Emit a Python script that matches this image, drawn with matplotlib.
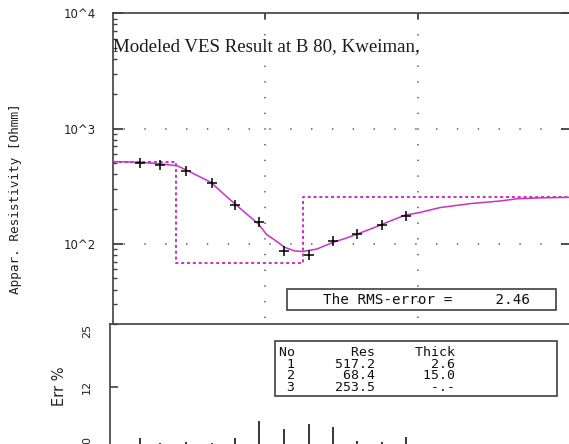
import matplotlib
matplotlib.use("Agg")
import matplotlib.pyplot as plt
from matplotlib.patches import Rectangle
from matplotlib.ticker import FixedLocator, NullLocator, FixedFormatter

plt.rcParams["lines.scale_dashes"] = False

# Field data: half current-electrode spacing AB/2 [m] and apparent resistivity [Ohm.m]
ab2 = [1.5, 2.05, 3.0, 4.45, 6.3, 9.1, 13.2, 19.2, 27.8, 40.0, 58.0, 83.0]
rho_obs = [499, 486, 431, 339, 218, 153, 86.5, 79.1, 106, 122, 146, 174]
# Relative misfit per station [%]
err_pct = [1.3, 0.3, 0.5, 0.3, 1.3, 4.7, 3.1, 4.2, 3.6, 0.7, 0.5, 1.4]

# Model response curve
curve_ab2 = [1.0, 1.51, 2.04, 2.64, 3.02, 4.40, 5.69, 6.32, 7.58, 8.94, 10.2, 11.6,
             13.4, 15.6, 17.6, 21.8, 27.7, 33.2, 40.4, 52.2, 67.5, 82.1, 103, 139,
             219, 344, 450, 620, 1000]
curve_rho = [517, 509, 494, 475, 438, 341, 250, 222, 180, 150, 120, 107,
             93, 86.6, 85.7, 90.1, 103, 111, 122, 139, 160, 177, 187, 206,
             223, 235, 246, 250, 253]

# Layered earth model
layer_no = [1, 2, 3]
layer_res = [517.2, 68.4, 253.5]
layer_thick = [2.6, 15.0, None]
rms_error = 2.46

title = "Modeled VES Result at B 80, Kweiman,"
y_ticks = [1e2, 1e3, 1e4]
y_ticklabels = ["10^2", "10^3", "10^4"]
err_ticks = [0, 12, 25]

W, H = 569, 444
DPI = 100
MAG = "#c832c8"
AXC = "#404040"


def fx(px):
    return px / W


def fy(py):
    return 1 - py / H


fig = plt.figure(figsize=(W / DPI, H / DPI), dpi=DPI)

# ---------------- resistivity panel ----------------
x_left, x_right = 112.7, 570.8
ax = fig.add_axes([fx(x_left), fy(324.3), fx(x_right - x_left), (324.3 - 13.3) / H])
ax.set_xscale("log")
ax.set_yscale("log")
ax.set_xlim(1, 1000)
ax.set_ylim(20, 1e4)

for s in ["top", "left", "right"]:
    ax.spines[s].set_color(AXC)
    ax.spines[s].set_linewidth(1.2)
ax.spines["bottom"].set_visible(False)

ax.xaxis.set_major_locator(FixedLocator([10, 100]))
ax.xaxis.set_minor_locator(NullLocator())
ax.tick_params(axis="x", which="major", top=True, bottom=False, labeltop=False,
               labelbottom=False, direction="in", length=4.5, width=1.3, color=AXC)

ax.yaxis.set_major_locator(FixedLocator(y_ticks))
ax.yaxis.set_major_formatter(FixedFormatter(y_ticklabels))
ax.tick_params(axis="y", which="major", left=True, right=True, direction="in",
               length=7.2, width=1.3, color=AXC, pad=12, labelsize=8.5,
               labelcolor="#222222")
ax.tick_params(axis="y", which="minor", left=True, right=False, direction="in",
               length=3, width=1.0, color=AXC)
ax.yaxis.set_minor_formatter(FixedFormatter([]))

# dotted grid
for yv in [1e2, 1e3]:
    ax.axhline(yv, color="#555555", lw=1.1, linestyle=(7.4, (1.0, 14.0)), zorder=1)
for xv in [10, 100]:
    ax.axvline(xv, color="#555555", lw=1.1, linestyle=(7.0, (1.0, 10.3)), zorder=1)

# stepped layer model
depths = [layer_thick[0], layer_thick[0] + layer_thick[1]]
mx = [1, depths[0], depths[0], depths[1], depths[1], 1000]
my = [layer_res[0], layer_res[0], layer_res[1], layer_res[1], layer_res[2], layer_res[2]]
ax.plot(mx, my, color=MAG, lw=1.4, linestyle=(0, (2.2, 2.0)), zorder=2)

# model response and observations
ax.plot(curve_ab2, curve_rho, color=MAG, lw=1.1, zorder=3)
ax.plot(ab2, rho_obs, linestyle="none", marker="+", markersize=7.5, mew=1.1,
        color="black", zorder=4)

ax.set_ylabel("Appar. Resistivity [Ohmm]", family="DejaVu Sans Mono", fontsize=9.2,
              color="#222222")
ax.yaxis.set_label_coords((22 - x_left) / (x_right - x_left), (324.3 - 198.4) / 311.0)

fig.text(fx(113), fy(50.7), title, family="Liberation Serif", fontsize=13.6,
         color="#1a1a1a", ha="left", va="baseline")

# RMS box
fig.patches.append(Rectangle((fx(287), fy(310)), fx(556 - 287), (310 - 289) / H,
                             transform=fig.transFigure, fill=False, ec=AXC, lw=1.2,
                             zorder=5))
fig.text(fx(323), fy(299.5), f"The RMS-error =     {rms_error:.2f}",
         family="DejaVu Sans Mono", fontsize=10.3, color="#111111",
         ha="left", va="center")

# ---------------- error panel ----------------
b_left = 110.0
decade_px = (x_right - x_left) / 3.0
bx_lo = 10 ** (-(x_left - b_left) / decade_px)
axb = fig.add_axes([fx(b_left), 0, fx(x_right - b_left), 119.7 / H])
axb.set_xscale("log")
axb.set_xlim(bx_lo, 1000)
axb.set_ylim(0, 25)
axb.patch.set_alpha(0)
for s in ["top", "left"]:
    axb.spines[s].set_color(AXC)
    axb.spines[s].set_linewidth(1.2)
axb.spines["bottom"].set_visible(False)
axb.spines["right"].set_visible(False)
axb.xaxis.set_major_locator(NullLocator())
axb.xaxis.set_minor_locator(NullLocator())
axb.yaxis.set_major_locator(FixedLocator(err_ticks))
axb.yaxis.set_major_formatter(FixedFormatter([str(v) for v in err_ticks]))
axb.tick_params(axis="y", direction="in", length=6, width=1.2, color=AXC, pad=13,
                labelsize=8, labelcolor="#222222", labelrotation=90)
for t, va in zip(axb.get_yticklabels(), ["bottom", "center", "top"]):
    t.set_va(va)
axb.yaxis.get_major_ticks()[0].tick1line.set_visible(False)
axb.yaxis.get_major_ticks()[2].tick1line.set_visible(False)

axb.vlines(ab2, 0, err_pct, color="black", lw=1.1)
axb.set_ylabel("Err %", fontsize=10.5, color="#222222")
axb.yaxis.set_label_coords((67 - b_left) / (x_right - b_left), (444 - 386.5) / 119.7)

# layer table, set as one fixed-width text block
fig.patches.append(Rectangle((fx(275), fy(395.7)), fx(556.7 - 275), (395.7 - 341) / H,
                             transform=fig.transFigure, fill=False, ec=AXC, lw=1.2,
                             zorder=5))
rows = [f"{'No':<2}{'Res':>10}{'Thick':>10}"]
for n, r, th in zip(layer_no, layer_res, layer_thick):
    th_txt = "-.-" if th is None else f"{th:.1f}"
    rows.append(f"{n:>2}{r:>10.1f}{th_txt:>10}")
fig.text(fx(279), fy(370.0), "\n".join(rows), family="DejaVu Sans Mono",
         fontsize=9.5, color="#111111", ha="left", va="center",
         linespacing=0.86)

fig.savefig("out.png", dpi=DPI)
